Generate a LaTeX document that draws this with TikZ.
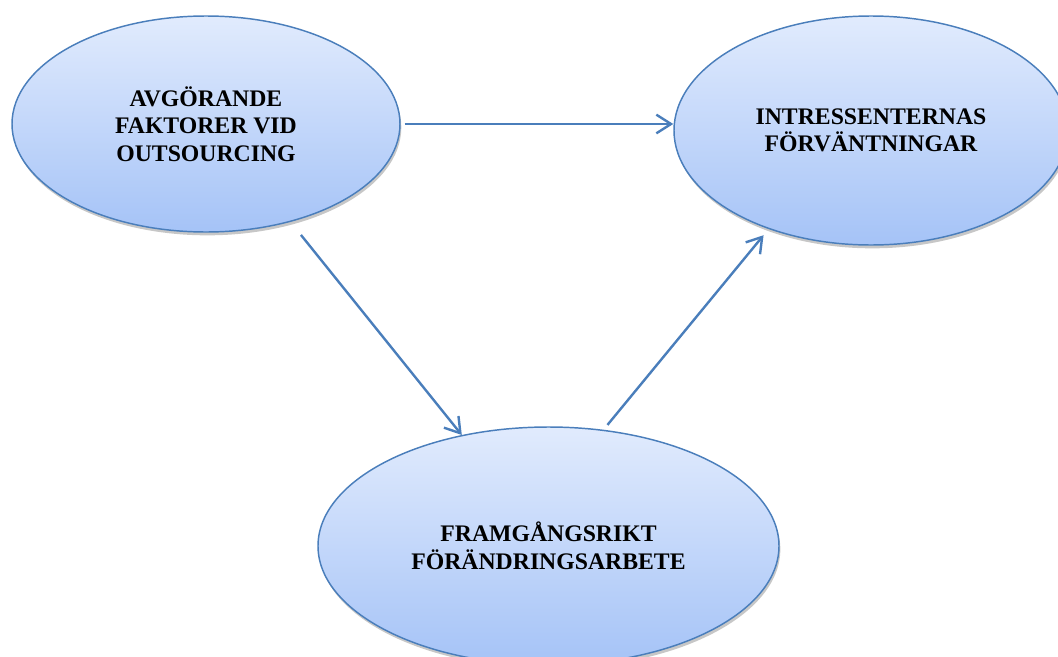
\documentclass[tikz,border=0pt]{standalone}
\usepackage{fontspec}
\setmainfont{Liberation Serif}
\usetikzlibrary{shapes.geometric,arrows.meta,shadows}
\definecolor{ebord}{HTML}{4A7EBB}
\definecolor{etop}{HTML}{E1EBFD}
\definecolor{ebot}{HTML}{A5C3F7}
\begin{document}
\begin{tikzpicture}[x=0.75pt,y=-0.75pt,
  bubble/.style={ellipse, draw=ebord, line width=1.1pt, top color=etop, bottom color=ebot,
    inner sep=0pt, align=center, font=\bfseries\fontsize{17.8}{20.6}\selectfont,
    drop shadow={shadow xshift=1pt, shadow yshift=-2.5pt, opacity=0.22, fill=black}},
  conn/.style={draw=ebord, line width=1.8pt, -{Straight Barb[length=11pt,width=14pt]}}]
\useasboundingbox (0,0) rectangle (1058,657);
\clip (0,0) rectangle (1058,657);
\node[bubble, minimum width=291pt, minimum height=162pt] (L) at (206,124)
  {AVGÖRANDE\\FAKTORER VID\\OUTSOURCING};
\node[bubble, minimum width=295.5pt, minimum height=171.75pt] (R) at (871,130.5)
  {INTRESSENTERNAS\\FÖRVÄNTNINGAR};
\node[bubble, minimum width=345.75pt, minimum height=178.5pt] (B) at (548.5,546)
  {FRAMGÅNGSRIKT\\FÖRÄNDRINGSARBETE};
\draw[conn] ([xshift=3pt]L.east) -- (L.east -| R.west);
\draw[conn] ([yshift=-12pt]L.315) -- (B.128.5);
\draw[conn] ([yshift=4pt]B.63) -- ([yshift=-6pt]R.222);
\end{tikzpicture}
\end{document}
